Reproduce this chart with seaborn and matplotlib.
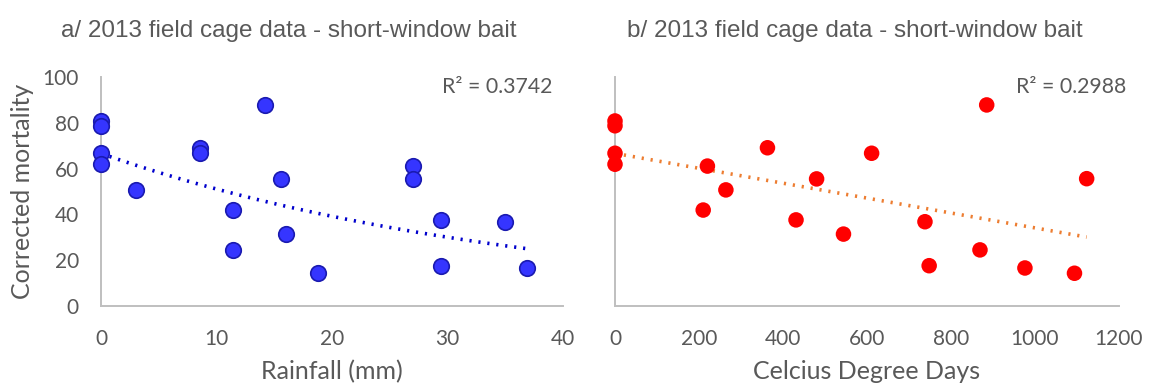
import numpy as np
import pandas as pd
import matplotlib
matplotlib.use("Agg")
import matplotlib.pyplot as plt
import seaborn as sns

# ---- data ----
mortality = [80.8, 78.7, 66.7, 61.9, 50.7, 69.1, 66.7, 41.9, 24.5, 87.8,
             55.6, 31.4, 14.3, 61.1, 55.5, 37.6, 17.6, 36.8, 16.6]
rainfall = [0, 0, 0, 0, 3.0, 8.6, 8.6, 11.45, 11.45, 14.2,
            15.6, 16.0, 18.8, 27.0, 27.0, 29.4, 29.4, 35.0, 36.9]
degree_days = [0, 0, 0, 0, 264, 363, 611, 210, 869, 885,
               1123, 544, 1094, 220, 480, 431, 748, 738, 976]
titles = ["a/ 2013 field cage data - short-window bait",
          "b/ 2013 field cage data - short-window bait"]
xlabels = ["Rainfall (mm)", "Celcius Degree Days"]
ylabel = "Corrected mortality"
r2_labels = ["R² = 0.3742", "R² = 0.2988"]
x_ticks_a = [0, 10, 20, 30, 40]
x_ticks_b = [0, 200, 400, 600, 800, 1000, 1200]
y_ticks = [0, 20, 40, 60, 80, 100]

df = pd.DataFrame({"mortality": mortality, "rainfall": rainfall,
                   "cdd": degree_days})

sns.set_theme(style="white")
plt.rcParams["font.family"] = ["Lato", "DejaVu Sans"]
TXT = "#595959"
SPINE = "#BFBFBF"

fig = plt.figure(figsize=(11.51, 3.87), dpi=100)
axA = fig.add_axes([101/1151, 81/387, 462/1151, 229/387])
axB = fig.add_axes([615/1151, 81/387, 504/1151, 229/387])

# panel a: exponential trend
sns.scatterplot(data=df, x="rainfall", y="mortality", ax=axA, s=125,
                color="#3535FF", edgecolor="#1A1AB0", linewidth=1.2,
                zorder=3, clip_on=False)
b, lna = np.polyfit(df["rainfall"], np.log(df["mortality"]), 1)
xs = np.linspace(0, df["rainfall"].max(), 100)
trendA = pd.DataFrame({"x": xs, "y": np.exp(lna) * np.exp(b * xs)})
sns.lineplot(data=trendA, x="x", y="y", ax=axA, color="#0000CC",
             linewidth=2.6, linestyle=(0, (0.6, 1.9)), zorder=2)

# panel b: linear trend
sns.scatterplot(data=df, x="cdd", y="mortality", ax=axB, s=125,
                color="#FF0000", edgecolor="none", linewidth=0,
                zorder=3, clip_on=False)
sns.regplot(data=df, x="cdd", y="mortality", ax=axB, scatter=False, ci=None,
            line_kws=dict(color="#ED7D31", linewidth=2.6,
                          linestyle=(0, (0.6, 1.9)), zorder=2))

panels = [(axA, x_ticks_a, xlabels[0], titles[0], r2_labels[0], -0.0872, 0.978),
          (axB, x_ticks_b, xlabels[1], titles[1], r2_labels[1], 0.0238, 1.014)]
for ax, xt, xl, t, r2, tx, rx in panels:
    ax.set_xlim(xt[0], xt[-1])
    ax.set_ylim(0, 100)
    ax.set_xticks(xt)
    ax.set_yticks(y_ticks)
    ax.tick_params(axis="x", length=0, labelsize=15, colors=TXT, pad=16.5)
    ax.tick_params(axis="y", length=0, labelsize=15, colors=TXT, pad=16)
    for s in ["top", "right"]:
        ax.spines[s].set_visible(False)
    for s in ["left", "bottom"]:
        ax.spines[s].set_color(SPINE)
        ax.spines[s].set_linewidth(1.4)
    ax.set_xlabel(xl, fontsize=18, color=TXT, labelpad=8)
    ax.set_ylabel("")
    ax.text(tx, 1.200, t, transform=ax.transAxes, ha="left", va="center",
            fontsize=17.5, color=TXT, family="Liberation Sans")
    ax.text(rx, 0.956, r2, transform=ax.transAxes, ha="right", va="center",
            fontsize=15.3, color=TXT)
    ax.patch.set_alpha(0)

axA.set_ylabel(ylabel, fontsize=18, color=TXT, labelpad=6)
axB.set_yticklabels([])

fig.savefig("out.png", dpi=100)
